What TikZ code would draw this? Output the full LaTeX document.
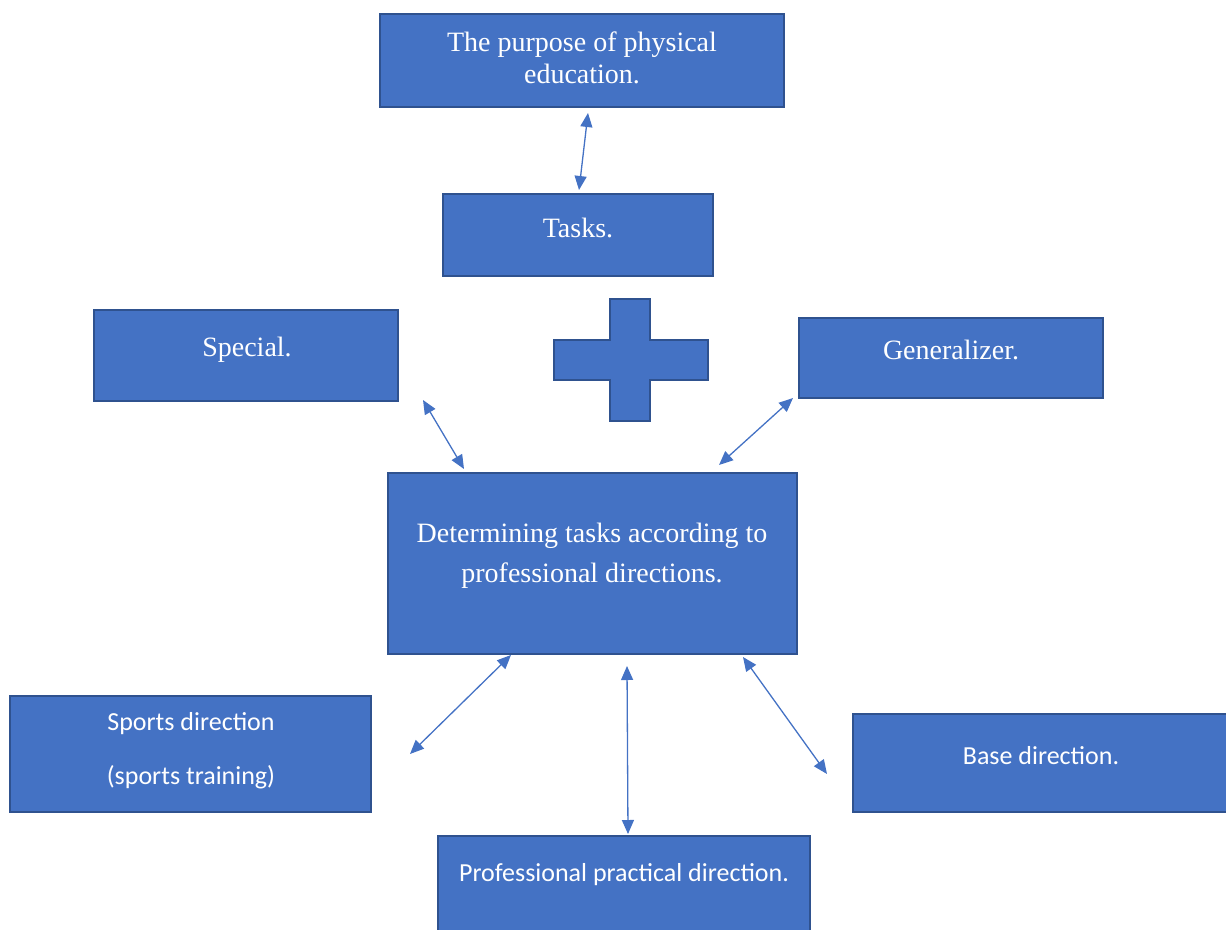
\documentclass[tikz,border=0pt]{standalone}
\usepackage{fontspec}
\setmainfont{Liberation Serif}
\newfontfamily\calibrifont{Carlito}
\usetikzlibrary{arrows.meta,positioning,calc}
\definecolor{boxblue}{RGB}{68,114,196}
\definecolor{rimblue}{RGB}{47,82,143}

\begin{document}
\begin{tikzpicture}[x=1pt,y=-1pt,
  box/.style={draw=rimblue,fill=boxblue,line width=1.8pt,inner sep=0pt},
  serif/.style={text=white,align=center,font=\fontsize{28}{32}\selectfont},
  sans/.style={text=white,align=center,font=\calibrifont\fontsize{26}{54}\selectfont},
  link/.style={{Triangle[length=14pt,width=12pt]}-{Triangle[length=14pt,width=12pt]},boxblue,line width=1.3pt}]
\useasboundingbox (0,0) rectangle (1226,929);

% boxes
\node[box,minimum width=404pt,minimum height=93pt] (purpose) at (582,60.5) {};
\node[box,minimum width=270pt,minimum height=82pt] (tasks) at (578,235) {};
\node[box,minimum width=304pt,minimum height=91pt] (special) at (246,355.5) {};
\node[box,minimum width=304pt,minimum height=80pt] (general) at (951,358) {};
\node[box,minimum width=409pt,minimum height=181pt] (determine) at (592.5,563.5) {};
\node[box,minimum width=361pt,minimum height=116pt] (sports) at (190.5,754) {};
\node[box,minimum width=377pt,minimum height=98pt] (base) at (1041.5,763) {};
\node[box,minimum width=372pt,minimum height=99pt] (practical) at (624,885.5) {};

% plus sign
\filldraw[fill=boxblue,draw=rimblue,line width=1.8pt]
  (610,299) -- (650,299) -- (650,340) -- (708,340) -- (708,380) -- (650,380)
  -- (650,421) -- (610,421) -- (610,380) -- (554,380) -- (554,340) -- (610,340) -- cycle;

% texts
\node[serif] (purposetxt) at (582,58) {The purpose of physical\\education.};
\node[serif] (taskstxt) at (578,228) {Tasks.};
\node[serif] (specialtxt) at (247,350) {Special.};
\node[serif] (generaltxt) at (951,350) {Generalizer.};
\node[serif,font=\fontsize{28}{40}\selectfont] (determinetxt) at (592,556) {Determining tasks according to\\professional directions.};
\node[sans] (sportstxt) at (191,751) {Sports direction\\(sports training)};
\node[sans] (basetxt) at (1041,756) {Base direction.};
\node[sans] (practicaltxt) at (624,875) {Professional practical direction.};

% arrow ends
\coordinate (pa) at (588,113);
\coordinate (pb) at (579,190);
\coordinate (sa) at (423,400);
\coordinate (sb) at (464,469);
\coordinate (ga) at (793,398);
\coordinate (gb) at (719,465);
\coordinate (da) at (511,655);
\coordinate (db) at (410,754);
\coordinate (ma) at (627,666);
\coordinate (mb) at (628,834);
\coordinate (ba) at (743,657);
\coordinate (bb) at (827,774);

\draw[link] (pa) -- (pb);
\draw[link] (sa) -- (sb);
\draw[link] (ga) -- (gb);
\draw[link] (da) -- (db);
\draw[link] (ma) -- (mb);
\draw[link] (ba) -- (bb);
\end{tikzpicture}
\end{document}
